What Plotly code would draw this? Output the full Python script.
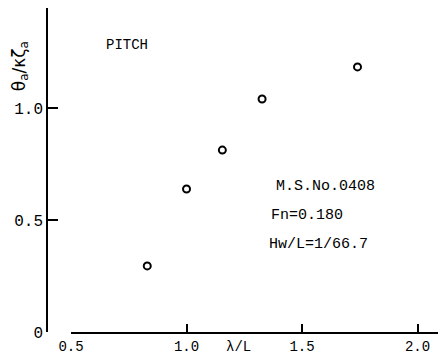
import plotly.graph_objects as go

wave_ratio = [0.83, 1.0, 1.155, 1.327, 1.74]
pitch_amp = [0.295, 0.638, 0.812, 1.040, 1.183]
x_ticks = [0.5, 1.0, 1.5, 2.0]
x_tick_labels = ["0.5", "1.0", "1.5", "2.0"]
y_ticks = [0, 0.5, 1.0]
y_tick_labels = ["0", "0.5", "1.0"]

FONT = "Liberation Mono"

fig = go.Figure()
fig.add_trace(go.Scatter(
    x=wave_ratio, y=pitch_amp, mode="markers",
    marker=dict(symbol="circle-open", size=7, color="black", line=dict(width=2, color="black")),
    showlegend=False, cliponaxis=False,
))

# page has an 8px body margin, so the figure is offset by 8px
fig.update_layout(
    width=446, height=360,
    margin=dict(l=39, r=8, t=0, b=36),
    paper_bgcolor="white", plot_bgcolor="white",
    font=dict(family=FONT, size=14, color="black"),
    xaxis=dict(
        domain=[24 / 399, 1], range=[0.5, 2.123],
        showline=True, linecolor="black", linewidth=1.5,
        ticks="inside", ticklen=8, tickwidth=1.5, tickcolor="black",
        tickvals=x_ticks, ticktext=x_tick_labels,
        showgrid=False, zeroline=False,
        tickfont=dict(family=FONT, size=14),
    ),
    yaxis=dict(
        anchor="free", position=0, range=[0, 1.446],
        showline=True, linecolor="black", linewidth=1.5,
        ticks="inside", ticklen=10, tickwidth=1.5, tickcolor="black",
        tickvals=y_ticks, ticktext=y_tick_labels,
        showgrid=False, zeroline=False,
        tickfont=dict(family=FONT, size=16),
    ),
    annotations=[
        dict(text="PITCH", xref="paper", yref="paper", x=0.2, y=0.885,
             showarrow=False, xanchor="center", yanchor="middle", font=dict(size=14)),
        dict(text="θ<sub>a</sub>/κζ<sub>a</sub>", xref="paper", yref="paper", x=-0.068, y=0.82,
             textangle=-90, showarrow=False, xanchor="center", yanchor="middle",
             font=dict(family="DejaVu Sans", size=17)),
        dict(text="λ/L", xref="x", yref="paper", x=1.225, y=-0.015, yanchor="top",
             showarrow=False, font=dict(size=14)),
        dict(text="M.S.No.0408", xref="x", yref="y", x=1.6, y=0.65,
             showarrow=False, font=dict(size=15)),
        dict(text="Fn=0.180", xref="x", yref="y", x=1.523, y=0.52,
             showarrow=False, font=dict(size=15)),
        dict(text="Hw/L=1/66.7", xref="x", yref="y", x=1.57, y=0.39,
             showarrow=False, font=dict(size=15)),
    ],
)

fig.write_html("out.html")
